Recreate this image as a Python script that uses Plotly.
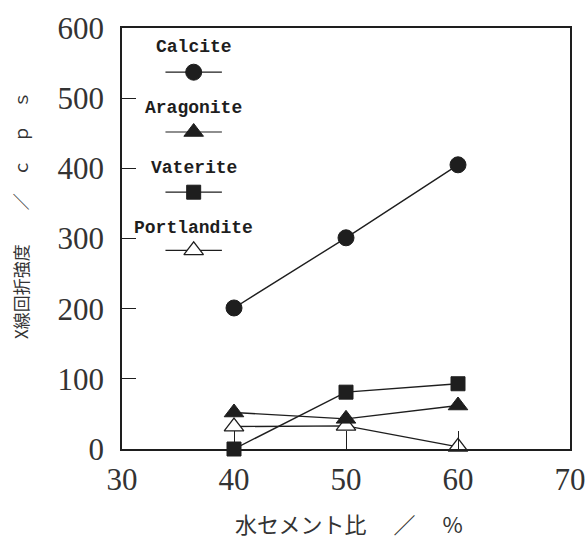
import plotly.graph_objects as go

wc_ratio = [40, 50, 60]
calcite = [201, 301, 405]
aragonite = [52, 43, 62]
vaterite = [0, 81, 93]
portlandite = [32, 33, 3]

series_names = ["Calcite", "Aragonite", "Vaterite", "Portlandite"]
x_ticks = [30, 40, 50, 60, 70]
y_ticks = [0, 100, 200, 300, 400, 500, 600]

INK = "#1e1e1e"
styles = {
    "Calcite": dict(symbol="circle", size=16, color=INK, line=dict(color=INK, width=1)),
    "Aragonite": dict(symbol="triangle-up", size=17, color=INK, line=dict(color=INK, width=1)),
    "Vaterite": dict(symbol="square", size=14, color=INK, line=dict(color=INK, width=1)),
    "Portlandite": dict(symbol="triangle-up", size=17, color="white", line=dict(color=INK, width=1.3)),
}
values = {"Calcite": calcite, "Aragonite": aragonite, "Vaterite": vaterite, "Portlandite": portlandite}

fig = go.Figure()
for name in ["Portlandite", "Calcite", "Aragonite", "Vaterite"]:
    fig.add_trace(go.Scatter(
        x=wc_ratio, y=values[name], mode="lines+markers", name=name,
        line=dict(color=INK, width=1.4), marker=styles[name], showlegend=False,
        cliponaxis=False,
    ))

# custom legend: name above a line+marker sample, on an overlay 0..1 axis
leg_text_y = [0.955, 0.81, 0.668, 0.524]
leg_sample_y = [0.895, 0.753, 0.61, 0.472]
leg_cx = 0.16
for i, name in enumerate(series_names):
    fig.add_trace(go.Scatter(
        x=[leg_cx - 0.063, leg_cx + 0.063], y=[leg_sample_y[i]] * 2, mode="lines",
        line=dict(color=INK, width=1.2), xaxis="x2", yaxis="y2", showlegend=False, hoverinfo="skip"))
    fig.add_trace(go.Scatter(
        x=[leg_cx], y=[leg_sample_y[i]], mode="markers", marker=styles[name],
        xaxis="x2", yaxis="y2", showlegend=False, hoverinfo="skip"))
    fig.add_annotation(
        x=leg_cx, y=leg_text_y[i], xref="x2", yref="y2", text="<b>" + name + "</b>",
        showarrow=False, font=dict(family="Liberation Mono", size=18, color=INK),
    )

# axis titles as annotations for exact placement
fig.add_annotation(
    x=-0.226, y=0.555, xref="paper", yref="paper", xanchor="center", yanchor="middle",
    text="X線回折強度　　／　ｃ　ｐ　ｓ", textangle=-90, showarrow=False,
    font=dict(family="Noto Sans CJK JP", size=17, color="#333"),
)
fig.add_annotation(
    x=0.507, y=-0.176, xref="paper", yref="paper", xanchor="center", yanchor="middle",
    text="水セメント比　 ／　 %", showarrow=False,
    font=dict(family="Noto Sans CJK JP", size=22, color="#333"),
)

axis_font = dict(family="Liberation Serif", size=31, color="#333")
fig.update_layout(
    width=585, height=546,
    margin=dict(l=122, r=15, t=28, b=97, autoexpand=False),
    paper_bgcolor="white", plot_bgcolor="white",
    font=dict(family="Liberation Serif", color=INK),
    xaxis=dict(
        range=[30, 70], tickvals=x_ticks, ticktext=[str(v) for v in x_ticks],
        ticks="inside", ticklen=18, tickwidth=1.2, tickcolor=INK,
        showline=True, linecolor=INK, linewidth=1.5, mirror=True,
        showgrid=False, zeroline=False, tickfont=axis_font, ticklabelstandoff=2,
        ticklabeloverflow="allow", automargin=False,
    ),
    yaxis=dict(
        range=[0, 600], tickvals=y_ticks, ticktext=[str(v) for v in y_ticks],
        ticks="inside", ticklen=14, tickwidth=1.2, tickcolor=INK,
        showline=True, linecolor=INK, linewidth=1.5, mirror=True,
        showgrid=False, zeroline=False, tickfont=axis_font, ticklabelstandoff=10,
        ticklabeloverflow="allow", automargin=False,
    ),
    xaxis2=dict(range=[0, 1], overlaying="x", visible=False, fixedrange=True),
    yaxis2=dict(range=[0, 1], overlaying="y", visible=False, fixedrange=True),
)

fig.write_html("out.html")
